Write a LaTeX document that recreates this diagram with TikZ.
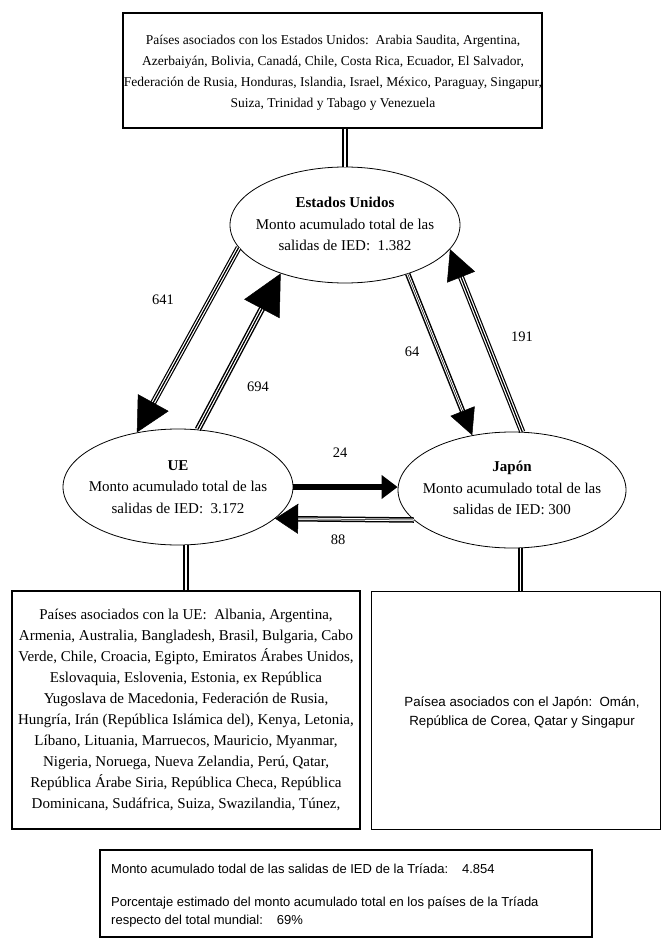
\documentclass[tikz,border=0pt]{standalone}
\usepackage{fontspec}
\setmainfont{Liberation Serif}
\newfontfamily\arialf{Liberation Sans}
\usetikzlibrary{shapes.geometric,arrows.meta}
\tikzset{
  ell/.style={draw, ellipse, minimum width=230pt, minimum height=116pt, inner sep=0pt, line width=0.8pt},
  sertext/.style={font=\fontsize{15}{21.5}\selectfont, align=center, inner sep=0pt},
  toptextstyle/.style={font=\fontsize{13.5}{21}\selectfont, align=center, inner sep=0pt},
  uetextstyle/.style={font=\fontsize{15}{21}\selectfont, align=center, inner sep=0pt},
  santext/.style={font=\arialf\fontsize{13.3}{19}\selectfont, inner sep=0pt},
  legtextstyle/.style={font=\arialf\fontsize{13}{18}\selectfont, inner sep=0pt},
  boxnode/.style={draw, line width=1.2pt, inner sep=0pt},
  triple/.style={line width=6pt, postaction={draw, white, line width=3.6pt}, postaction={draw, black, line width=1.2pt}},
  dblarrow/.style={line width=5.5pt, postaction={draw, white, line width=2.5pt}},
  link/.style={double, double distance=1.6pt, line width=2pt},
  numlabel/.style={font=\fontsize{14.5}{16}\selectfont, inner sep=0pt}
}
\begin{document}
\begin{tikzpicture}[x=1pt, y=-1pt]
\useasboundingbox (0,0) rectangle (664,947);
% boxes
\node[boxnode, minimum width=419pt, minimum height=115pt] (topbox) at (332.5,70.5) {};
\node[toptextstyle] (toptext) at (333,72.5) {Países asociados con los Estados Unidos:\ \ Arabia Saudita, Argentina,\\Azerbaiyán, Bolivia, Canadá, Chile, Costa Rica, Ecuador, El Salvador,\\Federación de Rusia, Honduras, Islandia, Israel, México, Paraguay, Singapur,\\Suiza, Trinidad y Tabago y Venezuela};
\node[boxnode, minimum width=348pt, minimum height=238pt] (uebox) at (186,710) {};
\node[uetextstyle, anchor=north] (uetext) at (186,609) {Países asociados con la UE:\ \ Albania, Argentina,\\Armenia, Australia, Bangladesh, Brasil, Bulgaria, Cabo\\Verde, Chile, Croacia, Egipto, Emiratos Árabes Unidos,\\Eslovaquia, Eslovenia, Estonia, ex República\\Yugoslava de Macedonia, Federación de Rusia,\\Hungría, Irán (República Islámica del), Kenya, Letonia,\\Líbano, Lituania, Marruecos, Mauricio, Myanmar,\\Nigeria, Noruega, Nueva Zelandia, Perú, Qatar,\\República Árabe Siria, República Checa, República\\Dominicana, Sudáfrica, Suiza, Swazilandia, Túnez,};
\node[boxnode, line width=1pt, minimum width=289pt, minimum height=238pt] (jpbox) at (515.5,710) {};
\node[santext, align=center] (jptext) at (522,712) {Paísea asociados con el Japón:\ \ Omán,\\República de Corea, Qatar y Singapur};
\node[boxnode, line width=2pt, minimum width=492pt, minimum height=87pt] (legbox) at (346,893.5) {};
\node[legtextstyle, align=left, anchor=north west] (legtext) at (111,864) {Monto acumulado todal de las salidas de IED de la Tríada:\hspace{14pt}4.854\\[15pt]Porcentaje estimado del monto acumulado total en los países de la Tríada\\respecto del total mundial:\hspace{14pt}69\%};
% ellipses
\node[ell] (us) at (345,225) {};
\node[sertext] (ustext) at (345,224) {\textbf{Estados Unidos}\\Monto acumulado total de las\\salidas de IED:\ \ 1.382};
\node[ell] (ue) at (178,487) {};
\node[sertext] (uetitle) at (178,487) {\textbf{UE}\\Monto acumulado total de las\\salidas de IED:\ \ 3.172};
\node[ell, minimum width=228pt] (jp) at (512,490) {};
\node[sertext] (jptitle) at (512,488) {\textbf{Japón}\\Monto acumulado total de las\\salidas de IED: 300};
% links box-ellipse
\draw[link] (topbox.south -| us.north) -- (us.north);
\draw[link] (uebox.north) -- (uebox.north |- ue.south);
\draw[link] ([xshift=5pt]jpbox.north) -- ([xshift=5pt]jpbox.north |- jp.south);
% arrows
\draw[triple, shorten >=32pt] (us.192) -- (ue.127);
\draw[-{Triangle[length=34pt,width=35pt]}, line width=0.5pt] (us.192) -- (ue.127);
\draw[triple, line width=6.5pt, shorten >=38pt] (ue.71) -- (us.217);
\draw[-{Triangle[length=40pt,width=40pt]}, line width=0.5pt] (ue.71) -- (us.217);
\draw[dblarrow, shorten >=25pt] (us.322) -- (jp.126);
\draw[-{Triangle[length=26pt,width=26pt]}, line width=0.5pt] (us.322) -- (jp.126);
\draw[triple, shorten >=29pt] (jp.80) -- (us.347);
\draw[-{Triangle[length=30pt,width=30pt]}, line width=0.5pt] (jp.80) -- (us.347);
\draw[line width=5.5pt, -{Triangle[length=16pt,width=23pt]}] (ue.east) -- (ue.east -| jp.west);
\draw[dblarrow, shorten >=22pt] (jp.197) -- (ue.342);
\draw[-{Triangle[length=23pt,width=30pt]}, line width=0.5pt] (jp.197) -- (ue.342);
% labels
\node[numlabel] (l641) at (163,300) {641};
\node[numlabel] (l694) at (258,387) {694};
\node[numlabel] (l64) at (412,352) {64};
\node[numlabel] (l191) at (522,337) {191};
\node[numlabel] (l24) at (340,453) {24};
\node[numlabel] (l88) at (338,540) {88};
\end{tikzpicture}
\end{document}
